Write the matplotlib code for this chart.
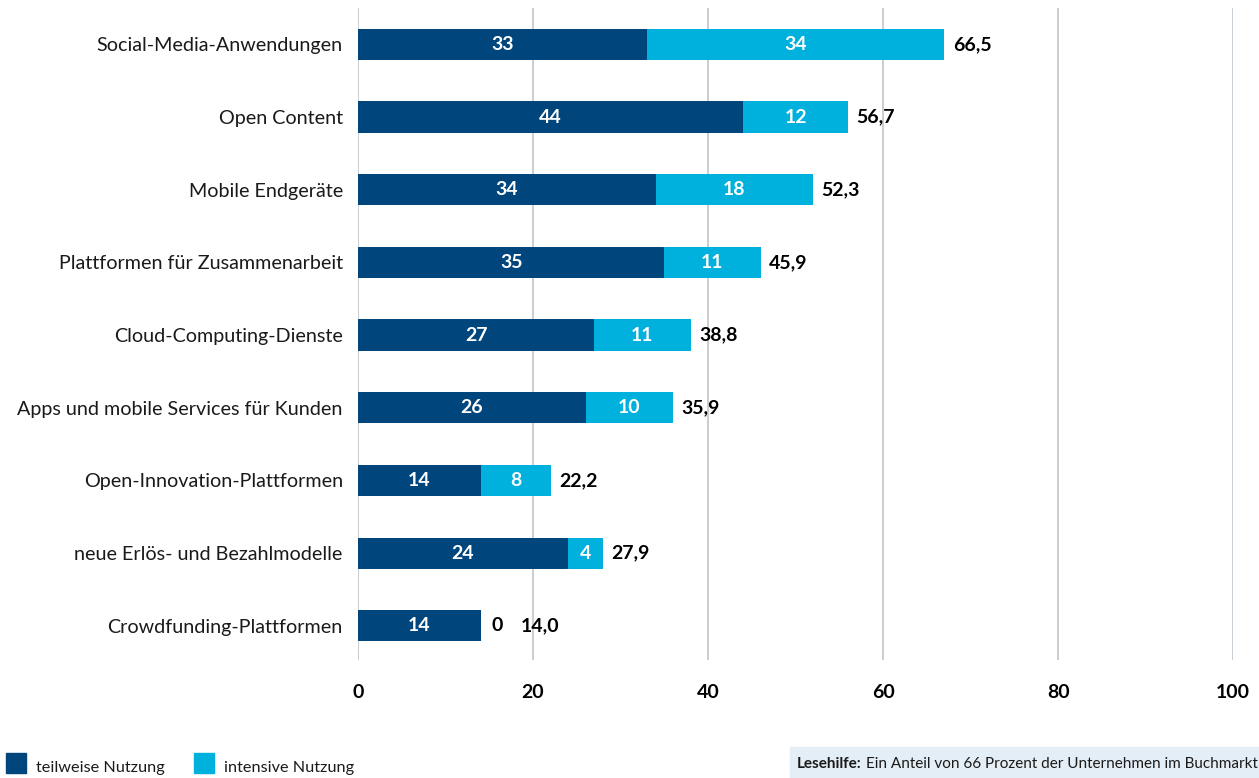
import matplotlib
matplotlib.use("Agg")

import matplotlib.pyplot as plt
from matplotlib.patches import Rectangle

categories = [
    "Social-Media-Anwendungen",
    "Open Content",
    "Mobile Endgeräte",
    "Plattformen für Zusammenarbeit",
    "Cloud-Computing-Dienste",
    "Apps und mobile Services für Kunden",
    "Open-Innovation-Plattformen",
    "neue Erlös- und Bezahlmodelle",
    "Crowdfunding-Plattformen",
]
teilweise = [33, 44, 34, 35, 27, 26, 14, 24, 14]
intensiv = [34, 12, 18, 11, 11, 10, 8, 4, 0]
gesamt = [66.5, 56.7, 52.3, 45.9, 38.8, 35.9, 22.2, 27.9, 14.0]
x_ticks = [0, 20, 40, 60, 80, 100]

DARK = "#00457c"
LIGHT = "#00b1dd"
GRID = "#c3cbd2"
TXT = "#1a1a1a"

plt.rcParams["font.family"] = ["Lato", "DejaVu Sans"]

fig = plt.figure(figsize=(12.59, 7.78), dpi=100)
ax = fig.add_axes([0.2844, 0.1517, 0.6950, 0.8380])

ys = list(range(len(categories)))
ax.barh(ys, teilweise, height=0.43, color=DARK, zorder=3)
ax.barh(ys, intensiv, left=teilweise, height=0.43, color=LIGHT, zorder=3)


def fmt(v):
    return f"{v:.1f}".replace(".", ",")


# segment values inside the bars, totals at the bar end
lbl = dict(fontsize=14, fontweight="bold", va="center")
for y, a, b, tot in zip(ys, teilweise, intensiv, gesamt):
    ax.text(a / 2, y, f"{a}", color="white", ha="center", zorder=4, **lbl)
    end = a + b
    if b > 0:
        ax.text(a + b / 2, y, f"{b}", color="white", ha="center", zorder=4, **lbl)
        ax.annotate(fmt(tot), (end, y), xytext=(6, 0), textcoords="offset points",
                    color="black", ha="left", **lbl)
    else:
        ax.annotate(f"{b}", (end, y), xytext=(8, 0), textcoords="offset points",
                    color="black", ha="left", **lbl)
        ax.annotate(fmt(tot), (end, y), xytext=(29, 0), textcoords="offset points",
                    color="black", ha="left", **lbl)

ax.set_xlim(0, 100)
ax.set_ylim(8.47, -0.5)
ax.set_xticks(x_ticks)
ax.set_xticklabels([str(t) for t in x_ticks], fontsize=14, fontweight="bold")
ax.set_yticks(ys)
ax.set_yticklabels(categories, fontsize=14.2, color=TXT)
ax.tick_params(axis="both", length=0)
ax.tick_params(axis="x", pad=17)
ax.tick_params(axis="y", pad=11)
ax.grid(axis="x", color=GRID, linewidth=1.3, zorder=0)
for s in ax.spines.values():
    s.set_visible(False)

# legend squares at the bottom left
for x0, col, label in [(6, DARK, "teilweise Nutzung"), (194, LIGHT, "intensive Nutzung")]:
    fig.patches.append(Rectangle((x0 / 1259, 5 / 778), 20 / 1259, 20 / 778,
                                 transform=fig.transFigure, color=col))
    fig.text((x0 + 30) / 1259, 10 / 778, label, fontsize=11.7, va="center",
             ha="left", color=TXT)

# reading aid box, runs off the right edge
fig.patches.append(Rectangle((790 / 1259, 0), 480 / 1259, 31 / 778,
                             transform=fig.transFigure, color="#e4eef6"))
head = fig.text(797 / 1259, 14 / 778, "Lesehilfe:", fontsize=11, fontweight="bold",
                va="center", ha="left", color=TXT)
fig.canvas.draw()
bb = head.get_window_extent()
fig.text((bb.x1 + 4) / 1259, 14 / 778,
         "Ein Anteil von 66 Prozent der Unternehmen im Buchmarkt nutzt",
         fontsize=11, va="center", ha="left", color=TXT)

fig.savefig("out.png", dpi=100)
